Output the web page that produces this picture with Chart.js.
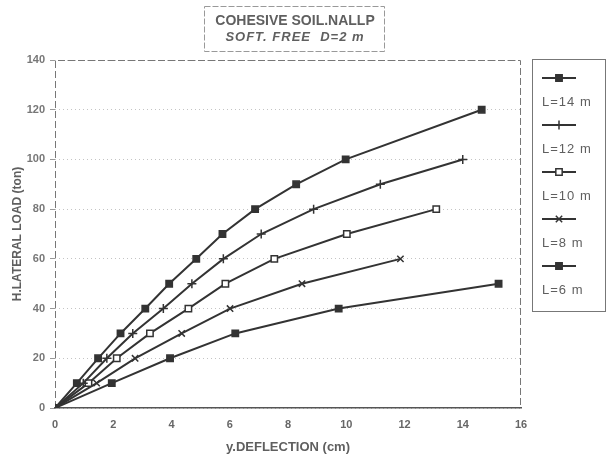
<!DOCTYPE html>
<html>
<head>
<meta charset="utf-8">
<script src="https://cdn.jsdelivr.net/npm/chart.js@4/dist/chart.umd.min.js"></script>
<style>
  html, body { margin: 0; padding: 0; background: #fff; }
  #wrap { position: relative; width: 608px; height: 455px; }
</style>
</head>
<body>
<div id="wrap"><canvas id="c" width="608" height="455"></canvas></div>
<script>
// Lateral load (ton) vs. deflection (cm) for several pile lengths
const pileLabels = ['L=14 m', 'L=12 m', 'L=10 m', 'L=8 m', 'L=6 m'];

const defl14 = [0, 0.75, 1.48, 2.25, 3.10, 3.92, 4.85, 5.75, 6.87, 8.28, 9.98, 14.65];
const load14 = [0, 10, 20, 30, 40, 50, 60, 70, 80, 90, 100, 120];

const defl12 = [0, 0.97, 1.78, 2.67, 3.72, 4.70, 5.78, 7.08, 8.88, 11.17, 14.00];
const load12 = [0, 10, 20, 30, 40, 50, 60, 70, 80, 90, 100];

const defl10 = [0, 1.15, 2.12, 3.26, 4.58, 5.85, 7.53, 10.02, 13.09];
const load10 = [0, 10, 20, 30, 40, 50, 60, 70, 80];

const defl8 = [0, 1.43, 2.75, 4.35, 6.01, 8.48, 11.86];
const load8 = [0, 10, 20, 30, 40, 50, 60];

const defl6 = [0, 1.95, 3.95, 6.19, 9.74, 15.23];
const load6 = [0, 10, 20, 30, 40, 50];

const xTicks = [0, 2, 4, 6, 8, 10, 12, 14, 16];
const yTicks = [0, 20, 40, 60, 80, 100, 120, 140];

const titleLines = ['COHESIVE SOIL.NALLP', 'SOFT. FREE  D=2 m'];
const xTitle = 'y.DEFLECTION (cm)';
const yTitle = 'H.LATERAL LOAD (ton)';

const INK = '#333';
const TEXT = '#5f5f5f';
const FONT = '"Liberation Sans", Arial, sans-serif';

function pts(xs, ys) { return xs.map((x, i) => ({ x: x, y: ys[i] })); }

const styles = [
  { pointStyle: 'rect', fill: INK },
  { pointStyle: 'cross', fill: INK },
  { pointStyle: 'rect', fill: '#fff' },
  { pointStyle: 'crossRot', fill: INK },
  { pointStyle: 'rect', fill: INK }
];
const series = [pts(defl14, load14), pts(defl12, load12), pts(defl10, load10), pts(defl8, load8), pts(defl6, load6)];

const datasets = series.map((d, i) => ({
  label: pileLabels[i],
  data: d,
  showLine: true,
  tension: 0,
  borderColor: INK,
  borderWidth: 2,
  pointStyle: styles[i].pointStyle,
  pointRadius: 4.5,
  pointBorderWidth: 1.5,
  pointBorderColor: INK,
  pointBackgroundColor: styles[i].fill
}));

// Boxed two-line heading above the plot
const headingBox = {
  id: 'headingBox',
  afterDraw(chart) {
    const ctx = chart.ctx;
    ctx.save();
    const cx = 295;
    ctx.strokeStyle = '#999';
    ctx.lineWidth = 1;
    ctx.setLineDash([6, 2]);
    ctx.strokeRect(204.5, 6.5, 180, 45);
    ctx.setLineDash([]);
    ctx.fillStyle = TEXT;
    ctx.textAlign = 'center';
    ctx.textBaseline = 'middle';
    ctx.font = 'bold 14px ' + FONT;
    ctx.fillText(titleLines[0], cx, 21);
    ctx.font = 'italic bold 13px ' + FONT;
    ctx.letterSpacing = '1px';
    ctx.fillText(titleLines[1], cx, 37);
    ctx.restore();
  }
};

// Legend box on the right: marker line with its label below it
const sideLegend = {
  id: 'sideLegend',
  afterDraw(chart) {
    const ctx = chart.ctx;
    ctx.save();
    ctx.strokeStyle = '#777';
    ctx.lineWidth = 1;
    ctx.strokeRect(532.5, 59.5, 73, 252);
    chart.data.datasets.forEach((ds, i) => {
      const y = 78 + i * 47;
      ctx.strokeStyle = INK;
      ctx.lineWidth = 2;
      ctx.beginPath();
      ctx.moveTo(542, y);
      ctx.lineTo(576, y);
      ctx.stroke();
      ctx.fillStyle = ds.pointBackgroundColor;
      ctx.strokeStyle = INK;
      ctx.lineWidth = 1.5;
      Chart.helpers.drawPoint(ctx, { pointStyle: ds.pointStyle, radius: 4.5, rotation: 0, borderWidth: 1.5 }, 559, y);
      ctx.fillStyle = TEXT;
      ctx.font = '13px ' + FONT;
      ctx.letterSpacing = '1px';
      ctx.textAlign = 'left';
      ctx.textBaseline = 'middle';
      ctx.fillText(ds.label, 542, y + 24);
      ctx.letterSpacing = '0px';
    });
    ctx.restore();
  }
};

// Dashed frame on the left/right/top edges of the plot
const plotFrame = {
  id: 'plotFrame',
  beforeDatasetsDraw(chart) {
    const a = chart.chartArea;
    const ctx = chart.ctx;
    ctx.save();
    ctx.strokeStyle = '#777';
    ctx.lineWidth = 1;
    ctx.setLineDash([7, 3]);
    ctx.beginPath();
    ctx.moveTo(a.left + 0.5, a.bottom);
    ctx.lineTo(a.left + 0.5, a.top + 0.5);
    ctx.lineTo(a.right - 0.5, a.top + 0.5);
    ctx.lineTo(a.right - 0.5, a.bottom);
    ctx.stroke();
    ctx.restore();
  }
};

new Chart(document.getElementById('c'), {
  type: 'scatter',
  data: { datasets: datasets },
  plugins: [headingBox, sideLegend, plotFrame],
  options: {
    responsive: false,
    animation: false,
    layout: { padding: { left: 0, top: 60, right: 87, bottom: 0 } },
    plugins: { legend: { display: false }, tooltip: { enabled: false } },
    scales: {
      x: {
        type: 'linear',
        min: 0, max: 16,
        afterBuildTicks(s) { s.ticks = xTicks.map(v => ({ value: v })); },
        afterFit(s) { s.height = 47; },
        grid: { display: false, drawOnChartArea: false },
        border: { color: '#555', width: 1.5 },
        ticks: { color: '#666', font: { family: FONT, size: 11, weight: 'bold' }, padding: 2 },
        title: { display: true, text: xTitle, color: TEXT, font: { family: FONT, size: 13, weight: 'bold' }, padding: { top: 0, bottom: 0 } }
      },
      y: {
        type: 'linear',
        min: 0, max: 140,
        afterBuildTicks(s) { s.ticks = yTicks.map(v => ({ value: v })); },
        afterFit(s) { s.width = 55; },
        grid: {
          color: '#c4c4c4',
          lineWidth: 1,
          tickColor: '#999',
          tickLength: 5,
          drawOnChartArea: true
        },
        border: { display: false, dash: [1, 3] },
        ticks: { color: '#777', font: { family: FONT, size: 11, weight: 'bold' }, padding: 5 },
        title: { display: true, text: yTitle, color: TEXT, font: { family: FONT, size: 12, weight: 'bold' }, padding: { top: 10, bottom: 0 } }
      }
    }
  }
});
</script>
</body>
</html>
